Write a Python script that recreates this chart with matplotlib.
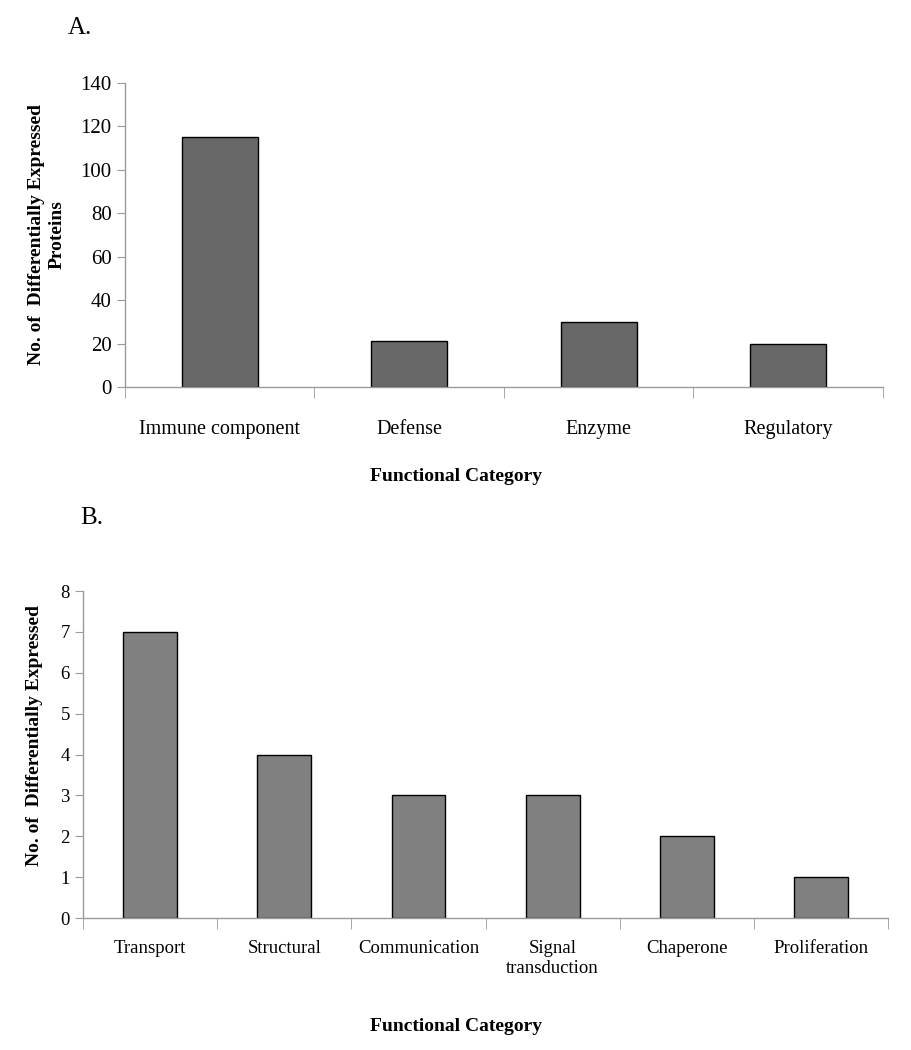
import matplotlib
matplotlib.use("Agg")
import matplotlib.pyplot as plt
import numpy as np

plt.rcParams['font.family'] = ['Liberation Serif', 'DejaVu Serif']

cats_a = ["Immune component", "Defense", "Enzyme", "Regulatory"]
vals_a = [115, 21, 30, 20]

cats_b = ["Transport", "Structural", "Communication", "Signal\ntransduction",
          "Chaperone", "Proliferation"]
vals_b = [7, 4, 3, 3, 2, 1]

AXIS_GREY = "#9a9a9a"

fig = plt.figure(figsize=(9.12, 10.5), dpi=100)


def style_axes(ax, n):
    ax.set_xlim(-0.5, n - 0.5)
    for side in ("top", "right"):
        ax.spines[side].set_visible(False)
    for side in ("left", "bottom"):
        ax.spines[side].set_color(AXIS_GREY)
        ax.spines[side].set_linewidth(1)
    # category ticks between the bars
    ax.set_xticks(np.arange(n + 1) - 0.5, minor=True)
    ax.tick_params(axis="x", which="minor", length=8, color=AXIS_GREY, direction="out")
    ax.tick_params(axis="x", which="major", length=0)
    ax.tick_params(axis="y", length=6, color=AXIS_GREY, direction="out")


# panel A
ax1 = fig.add_axes([0.137, 0.6314, 0.831, 0.2896])
x = np.arange(len(cats_a))
ax1.bar(x, vals_a, width=0.4, color="#686868", edgecolor="black", linewidth=1)
style_axes(ax1, len(cats_a))
ax1.set_ylim(0, 140)
ax1.set_yticks(range(0, 141, 20))
ax1.set_xticks(x)
ax1.set_xticklabels(cats_a, fontsize=14.5)
ax1.tick_params(axis="x", which="major", pad=24)
ax1.tick_params(axis="y", labelsize=15)
ax1.set_ylabel("No. of  Differentially Expressed\nProteins", fontsize=14,
               fontweight="bold", linespacing=1.3)
ax1.yaxis.set_label_coords(-0.078, 0.5)
ax1.set_xlabel("Functional Category", fontsize=14, fontweight="bold")
ax1.xaxis.set_label_coords(0.437, -0.265)
fig.text(0.074, 0.973, "A.", fontsize=18, va="center", ha="left")

# panel B
ax2 = fig.add_axes([0.091, 0.1257, 0.883, 0.3114])
x = np.arange(len(cats_b))
ax2.bar(x, vals_b, width=0.4, color="#808080", edgecolor="black", linewidth=1)
style_axes(ax2, len(cats_b))
ax2.set_ylim(0, 8)
ax2.set_yticks(range(0, 9))
ax2.set_xticks(x)
ax2.set_xticklabels(cats_b, fontsize=13.5, linespacing=1.2)
ax2.tick_params(axis="x", which="major", pad=16)
ax2.tick_params(axis="y", labelsize=13.5)
ax2.set_ylabel("No. of  Differentially Expressed", fontsize=14, fontweight="bold")
ax2.yaxis.set_label_coords(-0.05, 0.557)
ax2.set_xlabel("Functional Category", fontsize=14, fontweight="bold")
ax2.xaxis.set_label_coords(0.463, -0.305)
fig.text(0.088, 0.507, "B.", fontsize=18, va="center", ha="left")

fig.savefig("out.png", dpi=100, facecolor="white")
